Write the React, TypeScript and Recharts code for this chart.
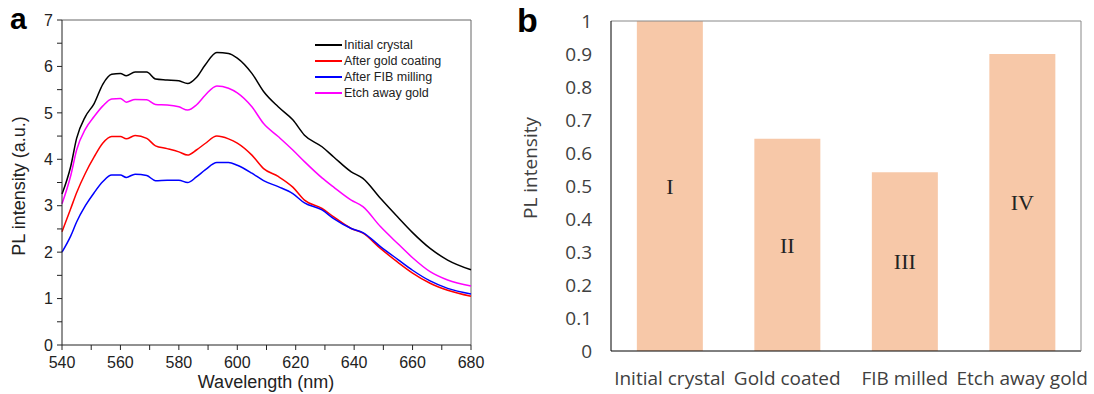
import { LineChart, Line, XAxis, YAxis, Legend, BarChart, Bar, LabelList, ReferenceLine } from 'recharts';

// panel a: PL spectra
const wavelengths = [540, 543, 545, 548, 551, 554, 557, 560, 562, 565, 569, 572, 576, 580, 583, 586, 589, 593, 597, 600, 605, 609, 614, 619, 623, 629, 633, 639, 643, 649, 655, 660, 666, 672, 680];
const initialCrystal = [3.25, 3.85, 4.45, 4.92, 5.2, 5.62, 5.83, 5.85, 5.8, 5.88, 5.88, 5.73, 5.71, 5.69, 5.63, 5.76, 6.03, 6.3, 6.28, 6.18, 5.85, 5.46, 5.13, 4.85, 4.52, 4.27, 4.05, 3.73, 3.59, 3.16, 2.75, 2.42, 2.08, 1.83, 1.62];
const afterGoldCoating = [2.44, 2.94, 3.28, 3.7, 4.05, 4.35, 4.49, 4.49, 4.44, 4.51, 4.45, 4.29, 4.23, 4.16, 4.09, 4.2, 4.34, 4.5, 4.44, 4.35, 4.09, 3.8, 3.63, 3.4, 3.12, 2.94, 2.76, 2.51, 2.41, 2.08, 1.78, 1.55, 1.33, 1.18, 1.05];
const afterFibMilling = [2.0, 2.35, 2.65, 3.0, 3.28, 3.52, 3.66, 3.66, 3.61, 3.68, 3.65, 3.54, 3.55, 3.55, 3.5, 3.62, 3.77, 3.93, 3.93, 3.87, 3.7, 3.54, 3.41, 3.26, 3.06, 2.91, 2.72, 2.51, 2.42, 2.12, 1.84, 1.61, 1.38, 1.22, 1.1];
const etchAwayGold = [3.04, 3.65, 4.2, 4.65, 4.92, 5.15, 5.3, 5.31, 5.23, 5.29, 5.28, 5.18, 5.17, 5.13, 5.06, 5.17, 5.38, 5.58, 5.53, 5.43, 5.13, 4.77, 4.49, 4.2, 3.95, 3.6, 3.4, 3.12, 2.98, 2.55, 2.18, 1.88, 1.58, 1.4, 1.27];

const xTicks = [540, 550, 560, 570, 580, 590, 600, 610, 620, 630, 640, 650, 660, 670, 680];
const yTicks = [0, 0.5, 1, 1.5, 2, 2.5, 3, 3.5, 4, 4.5, 5, 5.5, 6, 6.5, 7];

// panel b: normalised PL intensity
const categories = ['Initial crystal', 'Gold coated', 'FIB milled', 'Etch away gold'];
const intensities = [1, 0.643, 0.542, 0.9];
const romanLabels = ['I', 'II', 'III', 'IV'];
const barTicks = [0, 0.1, 0.2, 0.3, 0.4, 0.5, 0.6, 0.7, 0.8, 0.9, 1];

const series = [
  { key: 'initial', name: 'Initial crystal', color: '#000000', values: initialCrystal },
  { key: 'gold', name: 'After gold coating', color: '#ff0000', values: afterGoldCoating },
  { key: 'fib', name: 'After FIB milling', color: '#0000ff', values: afterFibMilling },
  { key: 'etch', name: 'Etch away gold', color: '#ff00ff', values: etchAwayGold },
];

const spectra = wavelengths.map((w, i) => {
  const row: Record<string, number> = { w };
  series.forEach((s) => (row[s.key] = s.values[i]));
  return row;
});

const bars = categories.map((cat, i) => ({ cat, value: intensities[i], roman: romanLabels[i] }));

const arial = 'Liberation Sans, Arial, sans-serif';
const calibri = 'Open Sans, sans-serif';

function XTick(props: any) {
  const { x, y, payload } = props;
  if (payload.value % 20 !== 0) return <g />;
  return (
    <text x={x} y={y} dy="0.71em" textAnchor="middle" fontSize={16} fontFamily={arial} fill="#222">
      {payload.value}
    </text>
  );
}

function YTick(props: any) {
  const { x, y, payload } = props;
  if (!Number.isInteger(payload.value)) return <g />;
  return (
    <text x={x} y={y} dy="0.355em" textAnchor="end" fontSize={16} fontFamily={arial} fill="#222">
      {payload.value}
    </text>
  );
}

function SpectraLegend() {
  return (
    <div style={{ fontFamily: arial, fontSize: 12.5, color: '#222' }}>
      {series.map((s) => (
        <div key={s.key} style={{ display: 'flex', alignItems: 'center', height: 16 }}>
          <svg width={27} height={4} style={{ marginRight: 2 }}>
            <line x1={0} y1={2} x2={27} y2={2} stroke={s.color} strokeWidth={2} />
          </svg>
          <span>{s.name}</span>
        </div>
      ))}
    </div>
  );
}

export default function App() {
  return (
    <div style={{ position: 'absolute', left: 0, top: 0, width: 1094, height: 394, background: '#fff' }}>
      <div style={{ position: 'absolute', left: 0, top: 0 }}>
        <LineChart width={490} height={394} data={spectra} margin={{ top: 20, right: 19, bottom: 0, left: 0 }}>
          <XAxis
            dataKey="w"
            type="number"
            domain={[540, 680]}
            ticks={xTicks}
            interval={0}
            height={49}
            tickSize={5}
            tickMargin={7}
            stroke="#222"
            tick={<XTick />}
          />
          <YAxis
            type="number"
            domain={[0, 7]}
            ticks={yTicks}
            interval={0}
            width={62}
            tickSize={5}
            tickMargin={4}
            stroke="#222"
            tick={<YTick />}
          />
          <ReferenceLine y={7} stroke="#666" />
          <ReferenceLine x={680} stroke="#666" />
          <Legend
            layout="vertical"
            verticalAlign="middle"
            align="center"
            content={<SpectraLegend />}
            wrapperStyle={{ left: 315, top: 37, width: 160 }}
          />
          {series.map((s) => (
            <Line
              key={s.key}
              dataKey={s.key}
              name={s.name}
              type="monotone"
              stroke={s.color}
              strokeWidth={1.5}
              dot={false}
              isAnimationActive={false}
            />
          ))}
        </LineChart>
      </div>

      <div style={{ position: 'absolute', left: 495, top: 0 }}>
        <BarChart width={599} height={394} data={bars} margin={{ top: 21, right: 13, bottom: 0, left: 0 }} barCategoryGap="22%">
          <XAxis
            dataKey="cat"
            height={43}
            tickSize={0}
            tickMargin={21}
            tickLine={false}
            stroke="#000"
            tick={{ fontSize: 19, fontFamily: calibri, fill: '#404040' }}
            interval={0}
          />
          <YAxis
            domain={[0, 1]}
            ticks={barTicks}
            interval={0}
            width={116}
            tickSize={0}
            tickMargin={19}
            tickLine={false}
            stroke="#000"
            tick={{ fontSize: 19, fontFamily: calibri, fill: '#404040' }}
          />
          <ReferenceLine y={1} stroke="#888" />
          <Bar dataKey="value" fill="#f7c8a8" isAnimationActive={false}>
            <LabelList dataKey="roman" position="center" fill="#222" fontSize={22} fontFamily="Liberation Serif, serif" />
          </Bar>
        </BarChart>
      </div>

      <svg width={1094} height={394} style={{ position: 'absolute', left: 0, top: 0, pointerEvents: 'none' }}>
        <text x={10} y={29} fontSize={30} fontWeight="bold" fontFamily={arial} fill="#000">a</text>
        <text x={517} y={32} fontSize={34} fontWeight="bold" fontFamily={arial} fill="#000">b</text>
        <text x={266} y={388} textAnchor="middle" fontSize={18} fontFamily={arial} fill="#222">Wavelength (nm)</text>
        <text x={19} y={186} dy="0.35em" textAnchor="middle" transform="rotate(-90 19 186)" fontSize={18} fontFamily={arial} fill="#222">
          PL intensity (a.u.)
        </text>
        <text x={530} y={168} dy="0.35em" textAnchor="middle" transform="rotate(-90 530 168)" fontSize={19} fontFamily={calibri} fill="#404040">
          PL intensity
        </text>
        {/* right frame edge of panel b */}
        <line x1={1081} y1={21} x2={1081} y2={351} stroke="#888" />
      </svg>
    </div>
  );
}
